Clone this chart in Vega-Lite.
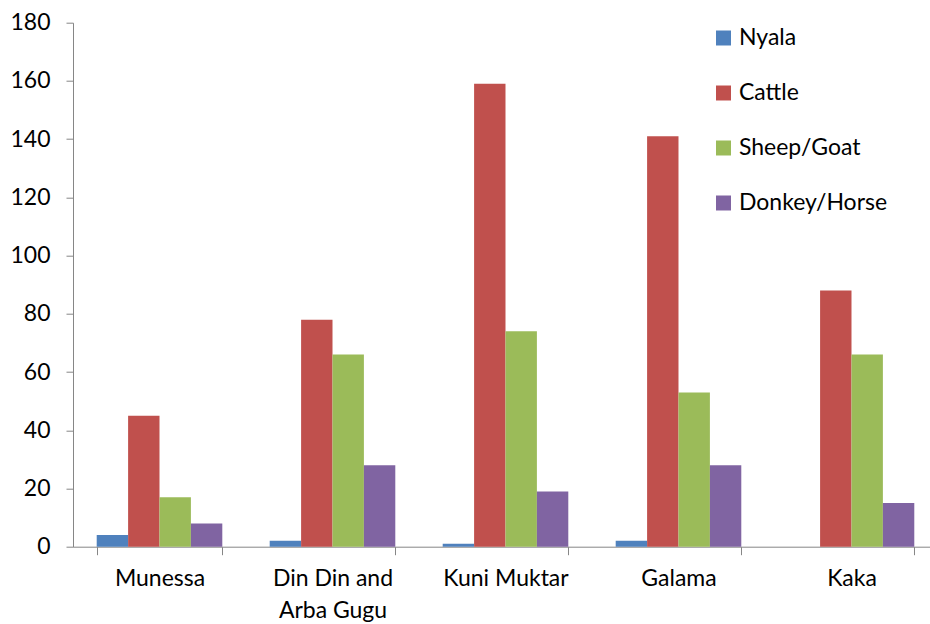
{
  "$schema": "https://vega.github.io/schema/vega-lite/v6.json",
  "width": 865,
  "height": 524,
  "autosize": {"type": "none"},
  "padding": {"left": 73, "top": 22.7, "right": 0, "bottom": 77},
  "background": "white",
  "config": {
    "font": "Lato",
    "view": {"stroke": null},
    "axis": {"labelFont": "Lato", "labelColor": "#000000", "labelFontSize": 23, "domainColor": "#868686", "tickColor": "#868686", "grid": false, "title": null},
    "legend": {"labelFont": "Lato", "labelColor": "#000000", "labelFontSize": 23}
  },
  "data": {
    "values": [
      {"site": "Munessa", "animal": "Nyala", "count": 4},
      {"site": "Munessa", "animal": "Cattle", "count": 45},
      {"site": "Munessa", "animal": "Sheep/Goat", "count": 17},
      {"site": "Munessa", "animal": "Donkey/Horse", "count": 8},
      {"site": "Din Din and Arba Gugu", "animal": "Nyala", "count": 2},
      {"site": "Din Din and Arba Gugu", "animal": "Cattle", "count": 78},
      {"site": "Din Din and Arba Gugu", "animal": "Sheep/Goat", "count": 66},
      {"site": "Din Din and Arba Gugu", "animal": "Donkey/Horse", "count": 28},
      {"site": "Kuni Muktar", "animal": "Nyala", "count": 1},
      {"site": "Kuni Muktar", "animal": "Cattle", "count": 159},
      {"site": "Kuni Muktar", "animal": "Sheep/Goat", "count": 74},
      {"site": "Kuni Muktar", "animal": "Donkey/Horse", "count": 19},
      {"site": "Galama", "animal": "Nyala", "count": 2},
      {"site": "Galama", "animal": "Cattle", "count": 141},
      {"site": "Galama", "animal": "Sheep/Goat", "count": 53},
      {"site": "Galama", "animal": "Donkey/Horse", "count": 28},
      {"site": "Kaka", "animal": "Nyala", "count": 0},
      {"site": "Kaka", "animal": "Cattle", "count": 88},
      {"site": "Kaka", "animal": "Sheep/Goat", "count": 66},
      {"site": "Kaka", "animal": "Donkey/Horse", "count": 15}
    ]
  },
  "mark": {"type": "bar"},
  "encoding": {
    "x": {
      "field": "site", "type": "nominal", "sort": null,
      "scale": {"paddingInner": 0.274, "paddingOuter": 0.137},
      "axis": {"labelAngle": 0, "tickSize": 8, "tickBand": "extent", "labelPadding": 13, "labelBaseline": "top", "labelLineHeight": 32,
               "labelExpr": "datum.label == 'Din Din and Arba Gugu' ? ['Din Din and', 'Arba Gugu'] : datum.label"}
    },
    "xOffset": {"field": "animal", "type": "nominal", "sort": ["Nyala", "Cattle", "Sheep/Goat", "Donkey/Horse"], "scale": {"paddingInner": 0, "paddingOuter": 0}},
    "y": {
      "field": "count", "type": "quantitative",
      "scale": {"domain": [0, 180], "nice": false},
      "axis": {"values": [0, 20, 40, 60, 80, 100, 120, 140, 160, 180], "tickSize": 7, "labelPadding": 16}
    },
    "color": {
      "field": "animal", "type": "nominal",
      "sort": ["Nyala", "Cattle", "Sheep/Goat", "Donkey/Horse"],
      "scale": {"domain": ["Nyala", "Cattle", "Sheep/Goat", "Donkey/Horse"], "range": ["#4F81BD", "#C0504D", "#9BBB59", "#8064A2"]},
      "legend": {"title": null, "orient": "none", "legendX": 639, "legendY": 3.8, "symbolType": "square", "symbolSize": 225, "symbolStrokeWidth": 0, "rowPadding": 31, "labelOffset": 4}
    }
  }
}
